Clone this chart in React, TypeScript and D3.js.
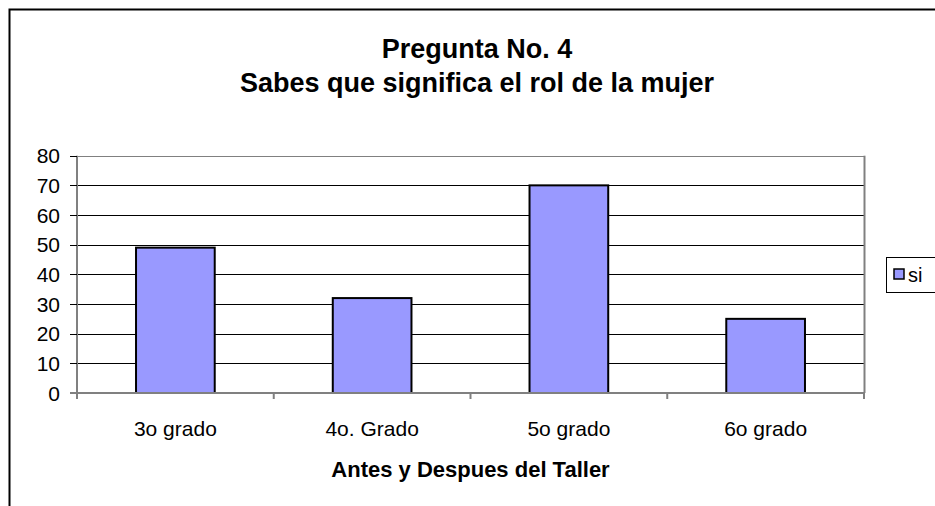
import React, { useEffect, useRef } from "react";
import * as d3 from "d3";

const categories = ["3o grado", "4o. Grado", "5o grado", "6o grado"];
const siValues = [49, 32, 70, 25];
const yTicks = [0, 10, 20, 30, 40, 50, 60, 70, 80];
const titleLines = ["Pregunta No. 4", "Sabes que significa el rol de la mujer"];
const xAxisTitle = "Antes y Despues del Taller";
const seriesName = "si";

const W = 935;
const H = 506;

export default function App() {
  const ref = useRef<SVGSVGElement | null>(null);

  useEffect(() => {
    const svg = d3.select(ref.current);
    svg.selectAll("*").remove();
    const font = "'Liberation Sans', Arial, sans-serif";

    // outer chart border
    svg.append("rect")
      .attr("x", 9.5).attr("y", 9.5)
      .attr("width", 960).attr("height", 520)
      .attr("fill", "white").attr("stroke", "black").attr("stroke-width", 2);

    const left = 77, right = 864, top = 155.7, bottom = 393;
    const x = d3.scaleBand<string>().domain(categories).range([left, right]).paddingInner(0.6).paddingOuter(0.3);
    const xb = d3.scaleBand<string>().domain(categories).range([left, right]);
    const y = d3.scaleLinear().domain([0, 80]).range([bottom, top]);

    // gridlines
    svg.append("g").selectAll("line").data(yTicks.filter(t => t > 0)).join("line")
      .attr("x1", left).attr("x2", right)
      .attr("y1", d => Math.round(y(d)) + 0.5).attr("y2", d => Math.round(y(d)) + 0.5)
      .attr("stroke", d => d === 80 ? "#808080" : "#000").attr("stroke-width", 1);

    // right plot border
    svg.append("line").attr("x1", right + 0.5).attr("x2", right + 0.5)
      .attr("y1", top).attr("y2", bottom).attr("stroke", "#808080").attr("stroke-width", 2);

    // bars
    svg.append("g").selectAll("rect").data(siValues).join("rect")
      .attr("x", (d, i) => x(categories[i])!)
      .attr("width", x.bandwidth())
      .attr("y", d => y(d))
      .attr("height", d => bottom - y(d))
      .attr("fill", "#9999FF").attr("stroke", "#000").attr("stroke-width", 2);

    // y axis
    svg.append("line").attr("x1", left).attr("x2", left).attr("y1", top).attr("y2", bottom + 1)
      .attr("stroke", "#808080").attr("stroke-width", 2);
    svg.append("g").selectAll("line").data(yTicks).join("line")
      .attr("x1", left - 7).attr("x2", left)
      .attr("y1", d => Math.round(y(d)) + 0.5).attr("y2", d => Math.round(y(d)) + 0.5)
      .attr("stroke", "#000").attr("stroke-width", 1);
    svg.append("g").selectAll("text").data(yTicks).join("text")
      .attr("x", 60).attr("y", d => y(d)).attr("dy", "0.36em")
      .attr("text-anchor", "end").attr("font-family", font).attr("font-size", 21)
      .text(d => d);

    // x axis
    svg.append("line").attr("x1", left - 7).attr("x2", right).attr("y1", bottom).attr("y2", bottom)
      .attr("stroke", "#808080").attr("stroke-width", 2);
    const sepX = categories.map(c => xb(c)!).concat([right]);
    svg.append("g").selectAll("line").data(sepX).join("line")
      .attr("x1", d => d).attr("x2", d => d).attr("y1", bottom).attr("y2", bottom + 6)
      .attr("stroke", "#808080").attr("stroke-width", 2);
    svg.append("g").selectAll("text").data(categories).join("text")
      .attr("x", c => xb(c)! + xb.bandwidth() / 2).attr("y", 428).attr("dy", "0.36em")
      .attr("text-anchor", "middle").attr("font-family", font).attr("font-size", 21)
      .text(c => c);

    svg.append("text").attr("x", (left + right) / 2).attr("y", 469).attr("dy", "0.36em")
      .attr("text-anchor", "middle").attr("font-family", font).attr("font-size", 22).attr("font-weight", "bold")
      .text(xAxisTitle);

    // title
    svg.append("g").selectAll("text").data(titleLines).join("text")
      .attr("x", 477).attr("y", (d, i) => 48 + i * 34).attr("dy", "0.36em")
      .attr("text-anchor", "middle").attr("font-family", font).attr("font-size", 27).attr("font-weight", "bold")
      .text(d => d);

    // legend
    svg.append("rect").attr("x", 886.5).attr("y", 257.5).attr("width", 60).attr("height", 35)
      .attr("fill", "white").attr("stroke", "black").attr("stroke-width", 1);
    svg.append("rect").attr("x", 894).attr("y", 269).attr("width", 10).attr("height", 10)
      .attr("fill", "#9999FF").attr("stroke", "black").attr("stroke-width", 1.5);
    svg.append("text").attr("x", 908).attr("y", 274.5).attr("dy", "0.36em")
      .attr("font-family", font).attr("font-size", 20).text(seriesName);
  }, []);

  return (
    <div style={{ position: "fixed", left: 0, top: 0 }}>
      <svg ref={ref} width={W} height={H} style={{ display: "block", background: "white" }} />
    </div>
  );
}
